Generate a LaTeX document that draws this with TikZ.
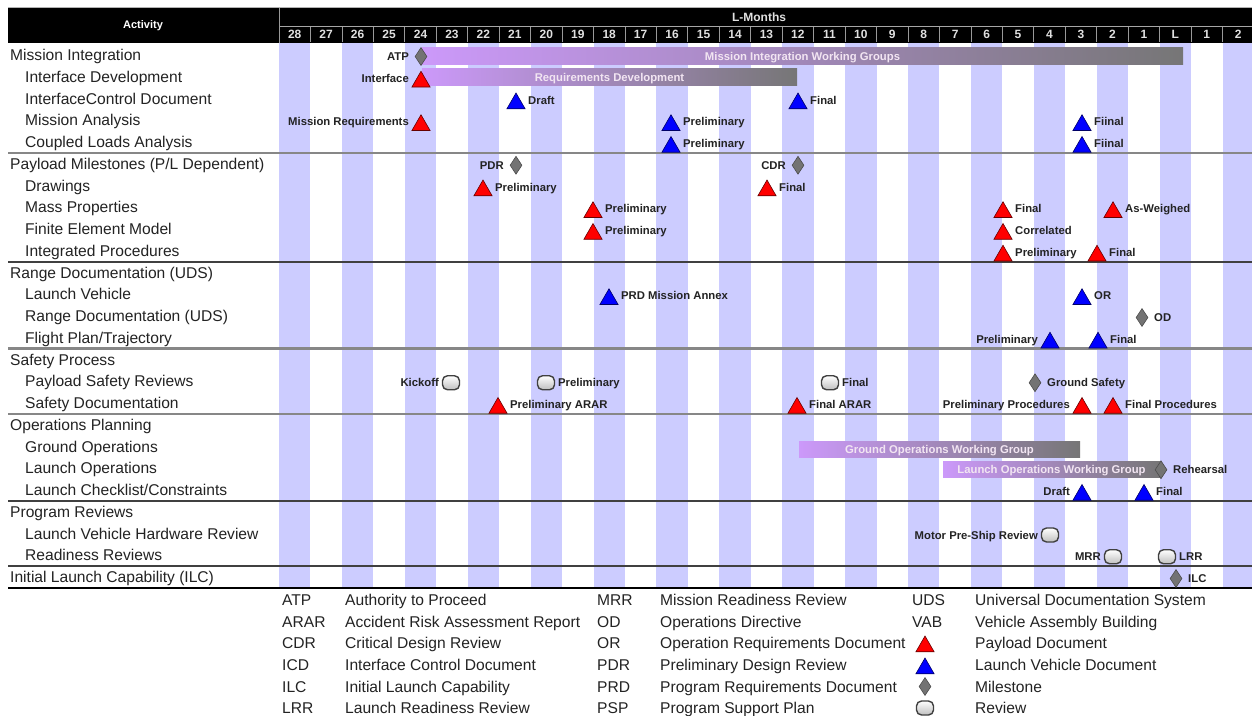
\documentclass[tikz,border=0pt]{standalone}
\usepackage{fontspec}
\setmainfont{Liberation Sans}
\usetikzlibrary{shapes.geometric}
\definecolor{stripe}{RGB}{204,204,255}
\definecolor{barpurple}{RGB}{204,153,250}
\definecolor{bargray}{RGB}{118,118,118}
\definecolor{txt}{RGB}{35,35,35}
\definecolor{sepgray}{RGB}{135,135,135}
\newcommand\mk[6]{%
  \node[#2] (#1) at (#3,{56.5+21.75*#4}) {};
  \node[mlab,#5] (#1t) at (#3,{56.5+21.75*#4}) {#6};}
\begin{document}
\begin{tikzpicture}[x=1pt,y=-1pt,
  rowlab/.style={anchor=west,inner sep=0pt,text=txt,text height=11pt,text depth=0pt,font=\fontsize{15.6}{15.6}\selectfont},
  leg/.style={anchor=west,inner sep=0pt,text=txt,text height=11.2pt,text depth=0pt,font=\fontsize{15.6}{15.6}\selectfont},
  mlab/.style={inner sep=0pt,text=txt,text height=8pt,text depth=0pt,font=\bfseries\fontsize{11.3}{11.3}\selectfont},
  lr/.style={anchor=west,xshift=12pt},
  ll/.style={anchor=east,xshift=-12pt},
  tri/.style={regular polygon,regular polygon sides=3,minimum size=21pt,inner sep=0pt,yshift=-3.5pt,line width=0.6pt},
  ptri/.style={tri,fill=red,draw=red!40!black},
  ltri/.style={tri,fill=blue,draw=blue!40!black},
  dia/.style={diamond,aspect=0.65,minimum width=12pt,minimum height=18pt,inner sep=0pt,fill=gray!90!black,draw=black!70,line width=0.6pt},
  rev/.style={rectangle,rounded corners=5pt,minimum width=17pt,minimum height=14pt,inner sep=0pt,draw=black!75,line width=1.4pt,top color=white,bottom color=black!25},
  bar/.style={rectangle,inner sep=0pt,minimum height=17pt,left color=barpurple,right color=bargray,text=white!90!violet,text height=8pt,text depth=0pt,font=\bfseries\fontsize{11.3}{11.3}\selectfont},
  hdr/.style={text=black!12,text height=8.6pt,text depth=0pt,font=\bfseries\fontsize{12}{12}\selectfont,inner sep=0pt},
  sepA/.style={draw=sepgray,line width=2.5pt},
  sepB/.style={draw=black!75,line width=1.8pt},
]
\useasboundingbox (0,0) rectangle (1252,715);
\fill[white] (0,0) rectangle (1252,715);
% stripes
\foreach \i in {0,2,...,30} \fill[stripe] (279+31.45*\i,43) rectangle (279+31.45*\i+31.45,588);
% header
\fill[black] (8,8) rectangle (1252,43);
\draw[gray!60,line width=1pt] (8,7.5) -- (1252,7.5);
\draw[gray!80,line width=1pt] (279,8) -- (279,43);
\draw[gray!70,line width=0.8pt] (280,26) -- (1252,26);
\foreach \i in {1,...,30} \draw[gray!80,line width=0.8pt] (279+31.45*\i,27) -- (279+31.45*\i,42);
\node[hdr,text=white,text height=7.8pt,font=\bfseries\fontsize{11}{11}\selectfont] (act) at (143,25) {Activity};
\node[hdr] (lm) at (759,17) {L-Months};
\foreach \m [count=\i from 0] in {28,27,26,25,24,23,22,21,20,19,18,17,16,15,14,13,12,11,10,9,8,7,6,5,4,3,2,1,L,1,2}
  \node[hdr] (mo\i) at (294.7+31.45*\i,34.5) {\m};
% separators
\draw[sepA] (8,152.9) -- (1252,152.9);
\draw[sepB] (8,261.6) -- (1252,261.6);
\draw[sepA] (8,348.6) -- (1252,348.6);
\draw[sepA] (8,413.9) -- (1252,413.9);
\draw[sepB] (8,500.9) -- (1252,500.9);
\draw[sepB] (8,566.1) -- (1252,566.1);
\draw[black,line width=2.6pt] (8,588) -- (1252,588);
% row labels
\node[rowlab] (r0) at (10,55) {Mission Integration};
\node[rowlab] (r1) at (25,76.75) {Interface Development};
\node[rowlab] (r2) at (25,98.5) {InterfaceControl Document};
\node[rowlab] (r3) at (25,120.25) {Mission Analysis};
\node[rowlab] (r4) at (25,142) {Coupled Loads Analysis};
\node[rowlab] (r5) at (10,163.75) {Payload Milestones (P/L Dependent)};
\node[rowlab] (r6) at (25,185.5) {Drawings};
\node[rowlab] (r7) at (25,207.25) {Mass Properties};
\node[rowlab] (r8) at (25,229) {Finite Element Model};
\node[rowlab] (r9) at (25,250.75) {Integrated Procedures};
\node[rowlab] (r10) at (10,272.5) {Range Documentation (UDS)};
\node[rowlab] (r11) at (25,294.25) {Launch Vehicle};
\node[rowlab] (r12) at (25,316) {Range Documentation (UDS)};
\node[rowlab] (r13) at (25,337.75) {Flight Plan/Trajectory};
\node[rowlab] (r14) at (10,359.5) {Safety Process};
\node[rowlab] (r15) at (25,381.25) {Payload Safety Reviews};
\node[rowlab] (r16) at (25,403) {Safety Documentation};
\node[rowlab] (r17) at (10,424.75) {Operations Planning};
\node[rowlab] (r18) at (25,446.5) {Ground Operations};
\node[rowlab] (r19) at (25,468.25) {Launch Operations};
\node[rowlab] (r20) at (25,490) {Launch Checklist/Constraints};
\node[rowlab] (r21) at (10,511.75) {Program Reviews};
\node[rowlab] (r22) at (25,533.5) {Launch Vehicle Hardware Review};
\node[rowlab] (r23) at (25,555.25) {Readiness Reviews};
\node[rowlab] (r24) at (10,577) {Initial Launch Capability (ILC)};
% bars
\node[bar,minimum width=761pt] (b1) at (802.5,56) {Mission Integration Working Groups};
\node[bar,minimum width=375pt] (b2) at (609.5,77) {Requirements Development};
\node[bar,minimum width=281pt,minimum height=16pt] (b3) at (939.5,449.5) {Ground Operations Working Group};
\node[bar,minimum width=217pt,minimum height=16pt] (b4) at (1051.5,469.5) {Launch Operations Working Group};
% markers
\mk{atp}{dia}{421}{0}{ll}{ATP}
\mk{ifd}{ptri}{421}{1}{ll}{Interface}
\mk{icda}{ltri}{516}{2}{lr}{Draft}
\mk{icdb}{ltri}{798}{2}{lr}{Final}
\mk{maa}{ptri}{421}{3}{ll}{Mission Requirements}
\mk{mab}{ltri}{671}{3}{lr}{Preliminary}
\mk{mac}{ltri}{1082}{3}{lr}{Fiinal}
\mk{cla}{ltri}{671}{4}{lr}{Preliminary}
\mk{clb}{ltri}{1082}{4}{lr}{Fiinal}
\mk{pdr}{dia}{516}{5}{ll}{PDR}
\mk{cdr}{dia}{798}{5}{ll}{CDR}
\mk{dra}{ptri}{483}{6}{lr}{Preliminary}
\mk{drb}{ptri}{767}{6}{lr}{Final}
\mk{mpa}{ptri}{593}{7}{lr}{Preliminary}
\mk{mpb}{ptri}{1003}{7}{lr}{Final}
\mk{mpc}{ptri}{1113}{7}{lr}{As-Weighed}
\mk{fea}{ptri}{593}{8}{lr}{Preliminary}
\mk{feb}{ptri}{1003}{8}{lr}{Correlated}
\mk{ipa}{ptri}{1003}{9}{lr}{Preliminary}
\mk{ipb}{ptri}{1097}{9}{lr}{Final}
\mk{lva}{ltri}{609}{11}{lr}{PRD Mission Annex}
\mk{lvb}{ltri}{1082}{11}{lr}{OR}
\mk{od}{dia}{1142}{12}{lr}{OD}
\mk{fpa}{ltri}{1050}{13}{ll}{Preliminary}
\mk{fpb}{ltri}{1098}{13}{lr}{Final}
\mk{psa}{rev}{451}{15}{ll}{Kickoff}
\mk{psb}{rev}{546}{15}{lr}{Preliminary}
\mk{psc}{rev}{830}{15}{lr}{Final}
\mk{psd}{dia}{1035}{15}{lr}{Ground Safety}
\mk{sda}{ptri}{498}{16}{lr}{Preliminary ARAR}
\mk{sdb}{ptri}{797}{16}{lr}{Final ARAR}
\mk{sdc}{ptri}{1082}{16}{ll}{Preliminary Procedures}
\mk{sdd}{ptri}{1113}{16}{lr}{Final Procedures}
\mk{reh}{dia}{1161}{19}{lr}{Rehearsal}
\mk{lca}{ltri}{1082}{20}{ll}{Draft}
\mk{lcb}{ltri}{1144}{20}{lr}{Final}
\mk{mps}{rev}{1050}{22}{ll}{Motor Pre-Ship Review}
\mk{mrr}{rev}{1113}{23}{ll}{MRR}
\mk{lrr}{rev}{1167}{23}{lr}{LRR}
\mk{ilc}{dia}{1176}{24}{lr}{ILC}
% legend
\node[leg] (la1) at (282,600) {ATP};   \node[leg] (ld1) at (345,600) {Authority to Proceed};
\node[leg] (la2) at (282,621.5) {ARAR}; \node[leg] (ld2) at (345,621.5) {Accident Risk Assessment Report};
\node[leg] (la3) at (282,643) {CDR};   \node[leg] (ld3) at (345,643) {Critical Design Review};
\node[leg] (la4) at (282,665) {ICD};   \node[leg] (ld4) at (345,665) {Interface Control Document};
\node[leg] (la5) at (282,686.5) {ILC};   \node[leg] (ld5) at (345,686.5) {Initial Launch Capability};
\node[leg] (la6) at (282,708) {LRR};   \node[leg] (ld6) at (345,708) {Launch Readiness Review};
\node[leg] (lb1) at (597,600) {MRR};   \node[leg] (le1) at (660,600) {Mission Readiness Review};
\node[leg] (lb2) at (597,621.5) {OD};  \node[leg] (le2) at (660,621.5) {Operations Directive};
\node[leg] (lb3) at (597,643) {OR};    \node[leg] (le3) at (660,643) {Operation Requirements Document};
\node[leg] (lb4) at (597,665) {PDR};   \node[leg] (le4) at (660,665) {Preliminary Design Review};
\node[leg] (lb5) at (597,686.5) {PRD};   \node[leg] (le5) at (660,686.5) {Program Requirements Document};
\node[leg] (lb6) at (597,708) {PSP};   \node[leg] (le6) at (660,708) {Program Support Plan};
\node[leg] (lc1) at (912,600) {UDS};   \node[leg] (lf1) at (975,600) {Universal Documentation System};
\node[leg] (lc2) at (912,621.5) {VAB}; \node[leg] (lf2) at (975,621.5) {Vehicle Assembly Building};
\node[ptri] (ls3) at (925,643) {};     \node[leg] (lf3) at (975,643) {Payload Document};
\node[ltri] (ls4) at (925,665) {};     \node[leg] (lf4) at (975,665) {Launch Vehicle Document};
\node[dia] (ls5) at (925,686.5) {};      \node[leg] (lf5) at (975,686.5) {Milestone};
\node[rev] (ls6) at (925,708) {};      \node[leg] (lf6) at (975,708) {Review};
\end{tikzpicture}
\end{document}
